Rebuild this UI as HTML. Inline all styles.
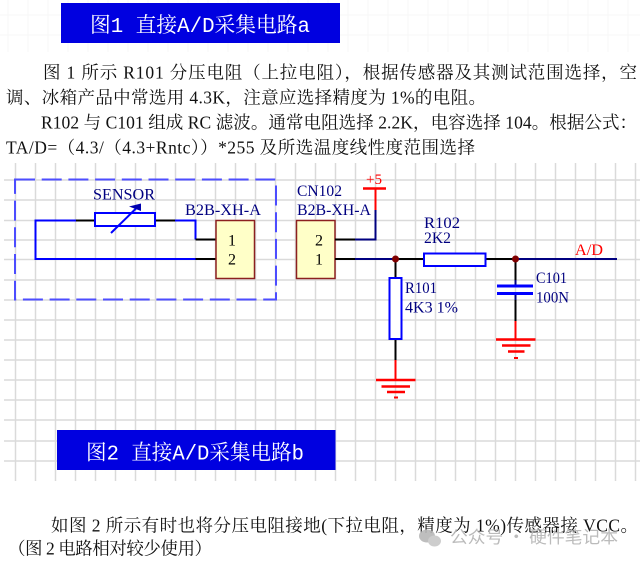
<!DOCTYPE html>
<html><head><meta charset="utf-8">
<style>
html,body{margin:0;padding:0;background:#fff;}
svg{display:block;}
.ser{font-family:"Liberation Serif","Noto Serif CJK SC",serif;}
.body{font-family:"Liberation Serif","Noto Serif CJK SC",serif;font-size:17.5px;fill:#111;}
.lab{font-family:"Liberation Serif",serif;font-size:16px;fill:#000080;}
.ttl{font-family:"Liberation Mono","Noto Serif CJK SC",monospace;font-size:21px;fill:#fff;}
</style></head>
<body>
<svg width="640" height="563" viewBox="0 0 640 563" xmlns="http://www.w3.org/2000/svg">
<rect width="640" height="563" fill="#fff"/>
<!-- faint top grid -->
<g stroke="#f7f7f7" stroke-width="1">
<path d="M8 0V52M28 0V52M48 0V52M68 0V52M88 0V52M108 0V52M128 0V52M148 0V52M168 0V52M188 0V52M208 0V52M228 0V52M248 0V52M268 0V52M288 0V52M308 0V52M328 0V52M348 0V52M368 0V52M388 0V52M408 0V52M428 0V52M448 0V52M468 0V52M488 0V52M508 0V52M528 0V52M548 0V52M568 0V52M588 0V52M608 0V52M628 0V52"/>
<path d="M0 15H640M0 35H640"/>
</g>
<!-- schematic grid -->
<g stroke="#dadada" stroke-width="1.5" fill="none">
<path d="M15.5 163V481M35.5 163V481M55.5 163V481M75.5 163V481M95.5 163V481M115.5 163V481M135.5 163V481M155.5 163V481M175.5 163V481M195.5 163V481M215.5 163V481M235.5 163V481M255.5 163V481M275.5 163V481M295.5 163V481M315.5 163V481M335.5 163V481M355.5 163V481M375.5 163V481M395.5 163V481M415.5 163V481M435.5 163V481M455.5 163V481M475.5 163V481M495.5 163V481M515.5 163V481M535.5 163V481M555.5 163V481M575.5 163V481M595.5 163V481M615.5 163V481M635.5 163V481"/>
<path d="M4 180H640M4 200H640M4 220.5H640M4 240H640M4 259.5H640M4 280H640M4 300H640M4 320H640M4 340H640M4 360H640M4 380H640M4 400H640M4 420H640M4 441H640M4 461H640"/>
</g>

<!-- Title box 1 -->
<rect x="61" y="3" width="279" height="40" fill="#0000e0"/>
<text class="ttl" x="90" y="32" textLength="220" lengthAdjust="spacingAndGlyphs">图1 直接A/D采集电路a</text>

<!-- Paragraph 1 -->
<text class="body" x="43" y="78.5" textLength="594" lengthAdjust="spacing">图 1 所示 R101 分压电阻（上拉电阻），根据传感器及其测试范围选择，空</text>
<text class="body" x="6" y="103.5" textLength="480" lengthAdjust="spacing">调、冰箱产品中常选用 4.3K，注意应选择精度为 1%的电阻。</text>
<text class="body" x="41" y="128.5" textLength="596" lengthAdjust="spacing">R102 与 C101 组成 RC 滤波。通常电阻选择 2.2K，电容选择 104。根据公式：</text>
<text class="body" x="6" y="153.5" textLength="469" lengthAdjust="spacing">TA/D=（4.3/（4.3+Rntc））*255 及所选温度线性度范围选择</text>

<!-- Dashed sensor box -->
<rect x="15" y="179.5" width="261" height="120" fill="none" stroke="#4d4dff" stroke-width="2" stroke-dasharray="20 6.7"/>

<!-- Sensor loop wires -->
<g fill="none" stroke-width="2">
<path d="M76 220.5H35.5V259H195.5" stroke="#0000ff"/>
<path d="M175 220.5H195.5V239.5" stroke="#0000ff"/>
<path d="M76 220.5H95M155 220.5H175M195.5 239.5H216M195.5 259H216" stroke="#000"/>
</g>
<rect x="95" y="213" width="60" height="13" fill="#fff" stroke="#0000ff" stroke-width="2"/>
<path d="M111 233L136 208.5" stroke="#0000ff" stroke-width="2"/>
<polygon points="129,206.5 141,203.5 141,211" fill="#0000b0"/>
<text class="lab" x="93" y="199.3" textLength="62" lengthAdjust="spacingAndGlyphs">SENSOR</text>
<text class="lab" x="185" y="215" textLength="76" lengthAdjust="spacingAndGlyphs">B2B-XH-A</text>

<!-- Left connector -->
<rect x="216" y="220.5" width="38.5" height="58" fill="#ffffc8" stroke="#8c2020" stroke-width="1.5"/>
<text class="ser" x="232" y="245.5" font-size="16" text-anchor="middle" fill="#000">1</text>
<text class="ser" x="232" y="264.5" font-size="16" text-anchor="middle" fill="#000">2</text>

<!-- Right connector CN102 -->
<text class="lab" x="297" y="196" textLength="45" lengthAdjust="spacingAndGlyphs">CN102</text>
<text class="lab" x="297" y="215" textLength="74" lengthAdjust="spacingAndGlyphs">B2B-XH-A</text>
<rect x="296.5" y="220.5" width="38.5" height="58" fill="#ffffc8" stroke="#8c2020" stroke-width="1.5"/>
<text class="ser" x="319" y="245.5" font-size="16" text-anchor="middle" fill="#000">2</text>
<text class="ser" x="319" y="264.5" font-size="16" text-anchor="middle" fill="#000">1</text>

<!-- +5 -->
<text class="ser" x="366" y="184" font-size="15" fill="#ff0000" textLength="16" lengthAdjust="spacingAndGlyphs">+5</text>
<path d="M363 188.5H386" stroke="#ff0000" stroke-width="2.5"/>
<path d="M375.5 188.5V210" stroke="#ff0000" stroke-width="2"/>
<path d="M375.5 210V239.5H355" stroke="#000080" stroke-width="2" fill="none"/>
<path d="M355 239.5H335" stroke="#000" stroke-width="2"/>

<!-- Main line -->
<g stroke-width="2" fill="none">
<path d="M335 259H355" stroke="#000"/>
<path d="M355 259H395.5" stroke="#000080"/>
<path d="M395.5 259H424" stroke="#000"/>
<path d="M486 259H515.5" stroke="#000"/>
<path d="M515.5 259H617" stroke="#000080"/>
</g>
<rect x="424" y="253.5" width="61.5" height="12.5" fill="#fff" stroke="#0000ff" stroke-width="2"/>
<text class="lab" x="424" y="228" textLength="36" lengthAdjust="spacingAndGlyphs">R102</text>
<text class="lab" x="424" y="243" textLength="27" lengthAdjust="spacingAndGlyphs">2K2</text>
<text class="ser" x="575" y="255" font-size="16" fill="#ff0000" textLength="28" lengthAdjust="spacingAndGlyphs">A/D</text>

<!-- R101 -->
<path d="M395.5 259V278M395.5 339V360" stroke="#000" stroke-width="2"/>
<path d="M395.5 360V380" stroke="#ff0000" stroke-width="2"/>
<rect x="389.5" y="278" width="12" height="61" fill="#fff" stroke="#0000ff" stroke-width="2"/>
<text class="lab" x="405" y="293" textLength="32" lengthAdjust="spacingAndGlyphs">R101</text>
<text class="lab" x="405" y="312.5" textLength="53" lengthAdjust="spacingAndGlyphs">4K3 1%</text>
<g stroke="#ff0000" stroke-width="2.5">
<path d="M376 380H415.5M381.5 386.5H410M387 392H405"/>
<path d="M394 397.5H398" stroke-width="2"/>
</g>

<!-- C101 -->
<path d="M515.5 259V280M515.5 300V321" stroke="#000" stroke-width="2"/>
<path d="M515.5 280V286M515.5 293.5V300" stroke="#000080" stroke-width="2"/>
<path d="M497 286H533M497 293.5H533" stroke="#0000ff" stroke-width="3"/>
<path d="M515.5 321V339.5" stroke="#ff0000" stroke-width="2"/>
<g stroke="#ff0000" stroke-width="2.5">
<path d="M496 339.5H535.5M502 345.5H530.5M508 351.5H524.5"/>
<path d="M514 358H518" stroke-width="2"/>
</g>
<text class="lab" x="536" y="283" textLength="31" lengthAdjust="spacingAndGlyphs">C101</text>
<text class="lab" x="536" y="302.5" textLength="33" lengthAdjust="spacingAndGlyphs">100N</text>

<!-- Junctions -->
<circle cx="395.5" cy="259" r="3.5" fill="#800000"/>
<circle cx="515.5" cy="259" r="3.5" fill="#800000"/>

<!-- Title box 2 -->
<rect x="57" y="430" width="278.5" height="40" fill="#0000e0"/>
<text class="ttl" x="86" y="459.5" textLength="218" lengthAdjust="spacingAndGlyphs">图2 直接A/D采集电路b</text>

<!-- Paragraph 2 -->
<text class="body" x="51" y="531.5" textLength="587" lengthAdjust="spacing">如图 2 所示有时也将分压电阻接地(下拉电阻，精度为 1%)传感器接 VCC。</text>
<text class="body" x="8" y="554.5" textLength="204" lengthAdjust="spacing">（图 2 电路相对较少使用）</text>

<!-- Watermark -->
<g fill="#b8b8b8" opacity="0.9">
<ellipse cx="427" cy="536" rx="8" ry="6.5"/>
<ellipse cx="434.5" cy="541" rx="6.5" ry="5.5" fill="#c8c8c8"/>
</g>
<text x="450" y="543" font-family="'Noto Sans CJK SC','WenQuanYi Zen Hei',sans-serif" font-size="17" fill="#b4b4b4" textLength="168" lengthAdjust="spacingAndGlyphs" opacity="0.9">公众号 · 硬件笔记本</text>
</svg>
</body></html>
